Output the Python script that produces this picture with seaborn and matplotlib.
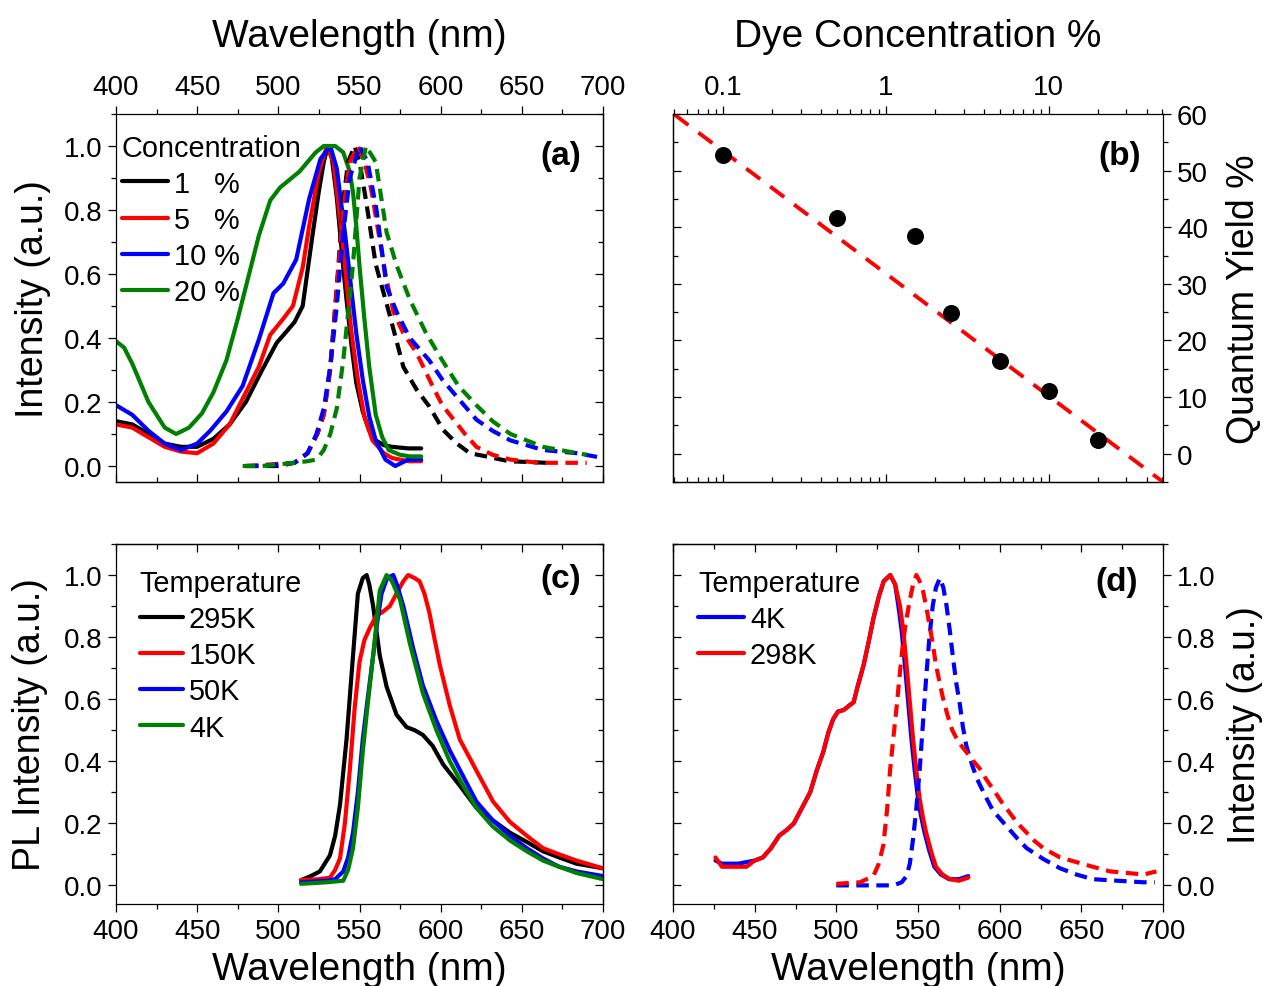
import numpy as np
import pandas as pd
import matplotlib
matplotlib.use("Agg")
import matplotlib.pyplot as plt
from matplotlib.ticker import MultipleLocator, FuncFormatter, LogLocator, NullFormatter
import seaborn as sns

sns.set_theme(style="ticks")
plt.rcParams['font.family'] = ['Liberation Sans', 'DejaVu Sans']
plt.rcParams['axes.linewidth'] = 0.9
plt.rcParams['axes.edgecolor'] = 'black'
plt.rcParams['text.color'] = 'black'
plt.rcParams['axes.labelcolor'] = 'black'
plt.rcParams['xtick.color'] = 'black'
plt.rcParams['ytick.color'] = 'black'
plt.rcParams['xtick.labelcolor'] = 'black'
plt.rcParams['ytick.labelcolor'] = 'black'

# ---------------- Panel (a): concentration series ----------------
conc_labels = ["1   %", "5   %", "10 %", "20 %"]
conc_colors = ["black", "red", "blue", "green"]

ex1_wl = [400, 410, 420, 430, 440, 450, 460, 470, 480, 490, 499, 505, 510, 515, 521, 525, 528, 530.5, 533, 536, 540, 542, 545, 548, 552, 556, 560, 565, 570, 580, 588]
ex1_i = [0.14, 0.13, 0.10, 0.07, 0.06, 0.06, 0.085, 0.13, 0.20, 0.30, 0.385, 0.42, 0.45, 0.50, 0.72, 0.86, 0.95, 1.0, 0.96, 0.84, 0.62, 0.52, 0.38, 0.26, 0.17, 0.11, 0.08, 0.065, 0.06, 0.055, 0.055]
ex5_wl = [400, 410, 420, 430, 440, 450, 460, 470, 478, 488, 495, 503, 509, 515, 519, 525, 530, 534, 539, 545, 549, 553, 558, 565, 570, 580, 588]
ex5_i = [0.13, 0.12, 0.09, 0.06, 0.045, 0.04, 0.07, 0.13, 0.21, 0.31, 0.41, 0.46, 0.50, 0.62, 0.75, 0.92, 1.0, 0.95, 0.73, 0.42, 0.27, 0.155, 0.08, 0.04, 0.025, 0.015, 0.015]
ex10_wl = [400, 410, 420, 430, 440, 450, 458, 468, 478, 488, 497, 503, 511, 519, 526, 532, 536, 541, 548, 552, 556, 560, 566, 572, 580, 588]
ex10_i = [0.19, 0.16, 0.11, 0.07, 0.05, 0.07, 0.11, 0.17, 0.25, 0.395, 0.54, 0.57, 0.645, 0.835, 0.96, 1.0, 0.93, 0.73, 0.415, 0.27, 0.155, 0.08, 0.02, 0.0, 0.02, 0.02]
ex20_wl = [400, 405, 410, 420, 430, 437, 445, 453, 460, 468, 475, 482, 488, 495, 501, 507, 513, 518, 523, 528, 535, 540, 544, 546, 548, 550, 553, 556, 560, 564, 568, 575, 581, 588]
ex20_i = [0.39, 0.37, 0.32, 0.20, 0.12, 0.10, 0.12, 0.165, 0.23, 0.33, 0.46, 0.60, 0.72, 0.83, 0.87, 0.895, 0.92, 0.95, 0.98, 1.0, 1.0, 0.98, 0.92, 0.855, 0.75, 0.625, 0.46, 0.31, 0.16, 0.09, 0.05, 0.035, 0.03, 0.03]

em1_wl = [480, 500, 510, 518, 524, 528, 532, 536, 540, 543, 547, 550, 554, 560, 568.7, 577, 585, 593, 601.5, 610, 618, 628, 642, 665]
em1_i = [0.0, 0.0, 0.01, 0.04, 0.10, 0.16, 0.31, 0.56, 0.83, 0.95, 1.0, 0.95, 0.83, 0.63, 0.47, 0.31, 0.24, 0.186, 0.113, 0.07, 0.04, 0.03, 0.015, 0.01]
em5_wl = [480, 510, 518, 524, 528, 532, 536, 540, 544, 549, 553, 557, 561, 566, 571, 577, 585, 595, 601, 608, 615, 622, 632, 643, 660, 690]
em5_i = [0.0, 0.01, 0.04, 0.10, 0.16, 0.30, 0.55, 0.80, 0.95, 1.0, 0.95, 0.87, 0.75, 0.60, 0.48, 0.415, 0.355, 0.25, 0.19, 0.145, 0.10, 0.06, 0.035, 0.02, 0.01, 0.01]
em10_wl = [480, 490, 500, 510, 518, 523.5, 528, 532, 536, 540, 544, 550, 555, 560.5, 566.7, 573, 581, 593, 601, 611, 622, 632, 643, 663, 684, 700]
em10_i = [0.0, 0.0, 0.005, 0.01, 0.04, 0.10, 0.18, 0.31, 0.50, 0.73, 0.90, 1.0, 0.95, 0.80, 0.56, 0.48, 0.40, 0.33, 0.27, 0.21, 0.145, 0.11, 0.08, 0.05, 0.04, 0.025]
em20_wl = [478, 490, 500, 510, 518, 523.5, 528, 532, 536, 540, 546, 550, 554, 560, 566.7, 573, 581, 591, 601, 611, 622, 632, 643, 663, 684, 690]
em20_i = [0.0, 0.0, 0.005, 0.01, 0.015, 0.02, 0.05, 0.10, 0.18, 0.33, 0.63, 0.90, 1.0, 0.95, 0.73, 0.625, 0.52, 0.415, 0.33, 0.25, 0.19, 0.14, 0.10, 0.06, 0.04, 0.035]

# ---------------- Panel (b): quantum yield ----------------
dye_conc = [0.1, 0.5, 1.5, 2.5, 5, 10, 20]
quantum_yield = [52.7, 41.6, 38.4, 24.8, 16.3, 11.1, 2.5]
fit_conc = [0.05, 50]
fit_qy = [59.9, -4.9]

# ---------------- Panel (c): temperature series ----------------
temp_labels = ["295K", "150K", "50K", "4K"]
temp_colors = ["black", "red", "blue", "green"]
t295_wl = [514, 520, 525.6, 531.8, 535, 538, 542, 546, 549, 552, 554.4, 556, 558.4, 562.5, 566.7, 572.8, 579, 584, 589, 595, 601.5, 612, 622, 632, 642.6, 653, 663, 673, 683.6, 700]
t295_i = [0.017, 0.03, 0.045, 0.097, 0.16, 0.26, 0.47, 0.74, 0.94, 0.99, 1.0, 0.97, 0.90, 0.74, 0.64, 0.55, 0.51, 0.50, 0.485, 0.45, 0.39, 0.32, 0.25, 0.21, 0.17, 0.14, 0.11, 0.09, 0.07, 0.055]
t150_wl = [514, 525, 531.8, 535, 538, 541, 544, 547, 550, 553, 556.4, 560.5, 564, 568.7, 572.8, 577, 580, 584, 587, 590, 593, 596, 599.5, 605.6, 611.8, 622, 632.3, 642.6, 653, 663, 673, 683.6, 700]
t150_i = [0.017, 0.02, 0.025, 0.05, 0.087, 0.2, 0.37, 0.57, 0.72, 0.79, 0.83, 0.87, 0.88, 0.90, 0.94, 0.98, 1.0, 0.99, 0.98, 0.94, 0.88, 0.80, 0.71, 0.58, 0.47, 0.37, 0.27, 0.205, 0.16, 0.12, 0.10, 0.08, 0.055]
t50_wl = [514, 530, 535, 540, 543, 546, 549, 552, 555, 558.4, 561, 563.6, 567, 570.8, 573, 577, 583, 589, 597.4, 605.6, 614, 622, 632, 642.6, 653, 663, 673, 683.6, 700]
t50_i = [0.01, 0.015, 0.02, 0.045, 0.09, 0.17, 0.30, 0.47, 0.60, 0.74, 0.85, 0.94, 0.99, 1.0, 0.97, 0.90, 0.765, 0.645, 0.53, 0.435, 0.35, 0.27, 0.21, 0.16, 0.12, 0.087, 0.06, 0.045, 0.03]
t4_wl = [514, 530, 540, 543, 546, 549, 552, 555, 558.4, 562.5, 566.7, 570, 575, 581, 589, 597.4, 605.6, 614, 622, 632, 642.6, 653, 663, 673, 683.6, 700]
t4_i = [0.005, 0.01, 0.015, 0.05, 0.12, 0.25, 0.43, 0.58, 0.74, 0.95, 1.0, 0.98, 0.92, 0.78, 0.62, 0.50, 0.40, 0.32, 0.25, 0.19, 0.145, 0.11, 0.08, 0.06, 0.04, 0.02]

# ---------------- Panel (d): 4K vs 298K ----------------
d_labels = ["4K", "298K"]
d_colors = ["blue", "red"]
ex4k_wl = [426, 430, 440, 450, 455, 460, 465, 470, 474, 480, 484, 488, 492, 495, 498, 501, 504.5, 508, 510.6, 513, 516.7, 520, 522.7, 526, 529, 533, 536, 538, 540, 542, 544, 546, 548, 550, 552, 554, 557, 560, 564, 569, 575, 580.8]
ex4k_i = [0.08, 0.07, 0.07, 0.08, 0.09, 0.12, 0.16, 0.18, 0.20, 0.26, 0.30, 0.37, 0.43, 0.49, 0.535, 0.56, 0.565, 0.58, 0.59, 0.64, 0.71, 0.79, 0.86, 0.93, 0.98, 1.0, 0.97, 0.90, 0.82, 0.71, 0.59, 0.47, 0.37, 0.28, 0.22, 0.17, 0.11, 0.06, 0.035, 0.02, 0.02, 0.03]
ex298_wl = [426, 430, 435, 440, 445, 450, 455, 460, 465, 470, 474, 480, 484, 488, 492, 495, 498, 501, 504.5, 508, 510.6, 513, 516.7, 520, 522.7, 526, 529, 533, 536, 539, 541, 543, 545, 547, 549, 551, 553, 555, 558, 561, 565, 569.6, 575, 580.8]
ex298_i = [0.09, 0.06, 0.06, 0.06, 0.06, 0.08, 0.09, 0.12, 0.16, 0.18, 0.20, 0.26, 0.30, 0.37, 0.43, 0.49, 0.535, 0.56, 0.565, 0.58, 0.59, 0.64, 0.71, 0.79, 0.86, 0.93, 0.98, 1.0, 0.97, 0.90, 0.82, 0.71, 0.59, 0.47, 0.37, 0.28, 0.22, 0.17, 0.11, 0.06, 0.035, 0.02, 0.015, 0.025]
em4k_wl = [500, 520, 535, 540, 543, 545, 547, 549, 551, 553, 555, 557, 559, 561, 563.4, 565.5, 567.5, 569.5, 571.5, 573.5, 575.7, 577.5, 579.6, 583, 586, 591, 596, 601, 606, 611, 616.5, 626.7, 637, 647, 657, 672, 688, 695]
em4k_i = [0.0, 0.0, 0.0, 0.01, 0.03, 0.07, 0.15, 0.25, 0.37, 0.52, 0.67, 0.80, 0.90, 0.96, 0.99, 0.96, 0.90, 0.82, 0.73, 0.65, 0.58, 0.51, 0.45, 0.39, 0.345, 0.29, 0.24, 0.21, 0.18, 0.15, 0.12, 0.085, 0.055, 0.035, 0.02, 0.015, 0.01, 0.01]
em298_wl = [500, 514.5, 522.7, 526, 528.8, 531, 532.9, 535, 537, 539, 541, 543, 545, 547, 549, 551, 553, 555, 557, 559, 561, 563, 565, 568, 571, 575, 579.6, 584, 588, 592, 596, 601, 606, 611, 616.5, 621, 626.7, 637, 647, 657, 667.6, 678, 688, 696]
em298_i = [0.005, 0.01, 0.03, 0.07, 0.13, 0.24, 0.37, 0.48, 0.58, 0.69, 0.79, 0.86, 0.92, 0.97, 1.0, 0.98, 0.95, 0.90, 0.84, 0.78, 0.71, 0.66, 0.61, 0.55, 0.50, 0.46, 0.43, 0.40, 0.375, 0.34, 0.31, 0.27, 0.235, 0.20, 0.17, 0.145, 0.12, 0.09, 0.075, 0.06, 0.045, 0.04, 0.035, 0.045]

TICK_FS = 20
LABEL_FS = 28
YLABEL_FS = 27
LEG_FS = 20.8
PANEL_FS = 24
LW = 3.0
DASH = (0, (3.0, 1.8))

fig = plt.figure(figsize=(12.66, 9.87), dpi=100)
axA = fig.add_axes([116/1266, 1-483/987, 487/1266, 368/987])
axB = fig.add_axes([673/1266, 1-483/987, 490/1266, 368/987])
axC = fig.add_axes([116/1266, 1-905/987, 487/1266, 360/987])
axD = fig.add_axes([673/1266, 1-905/987, 490/1266, 360/987])


def line(ax, x, y, color, dashed=False, label=None, lw=LW):
    df = pd.DataFrame({"x": x, "y": y})
    kw = dict(linestyle=DASH) if dashed else {}
    sns.lineplot(data=df, x="x", y="y", ax=ax, color=color, lw=lw,
                 estimator=None, sort=False, label=label, legend=False, **kw)


def style_axes(ax, xside, yside, xmaj, xmin, ymaj, ymin, logx=False):
    xo = 'bottom' if xside == 'top' else 'top'
    yo = 'left' if yside == 'right' else 'right'
    ax.xaxis.set_ticks_position(xside)
    ax.xaxis.set_label_position(xside)
    ax.yaxis.set_ticks_position(yside)
    ax.yaxis.set_label_position(yside)
    ax.tick_params(which='major', direction='out', length=6, width=0.9,
                   labelsize=TICK_FS, pad=4, color='black', labelcolor='black')
    ax.tick_params(which='minor', direction='out', length=3.5, width=0.9, color='black')
    sx = ax.secondary_xaxis(xo)
    sy = ax.secondary_yaxis(yo)
    for s in (sx, sy):
        s.tick_params(which='major', direction='in', length=6, width=0.9, color='black')
        s.tick_params(which='minor', direction='in', length=3.5, width=0.9, color='black')
    sx.tick_params(labelbottom=False, labeltop=False)
    sy.tick_params(labelleft=False, labelright=False)
    if logx:
        for a in (ax, sx):
            a.xaxis.set_major_locator(LogLocator(base=10))
            a.xaxis.set_minor_locator(LogLocator(base=10, subs=np.arange(2, 10)))
            a.xaxis.set_minor_formatter(NullFormatter())
        ax.xaxis.set_major_formatter(FuncFormatter(lambda v, p: f"{v:g}"))
    else:
        for a in (ax, sx):
            a.xaxis.set_major_locator(MultipleLocator(xmaj))
            a.xaxis.set_minor_locator(MultipleLocator(xmin))
    for a in (ax, sy):
        a.yaxis.set_major_locator(MultipleLocator(ymaj))
        a.yaxis.set_minor_locator(MultipleLocator(ymin))
    for sp in ax.spines.values():
        sp.set_color('black')
        sp.set_linewidth(0.9)


LEG_KW = dict(frameon=False, fontsize=LEG_FS, title_fontsize=LEG_FS,
              handletextpad=0.2, labelspacing=0.28, borderpad=0,
              borderaxespad=0, alignment='left', loc='upper left')

# ---- (a)
ex_sets = [(ex1_wl, ex1_i), (ex5_wl, ex5_i), (ex10_wl, ex10_i), (ex20_wl, ex20_i)]
em_sets = [(em1_wl, em1_i), (em5_wl, em5_i), (em10_wl, em10_i), (em20_wl, em20_i)]
for (x, y), c, lab in zip(ex_sets, conc_colors, conc_labels):
    line(axA, x, y, c, label=lab)
for (x, y), c in zip(em_sets, conc_colors):
    line(axA, x, y, c, dashed=True)
axA.set_xlim(400, 700)
axA.set_ylim(-0.05, 1.1)
style_axes(axA, 'top', 'left', 50, 25, 0.2, 0.1)
axA.yaxis.set_major_formatter(FuncFormatter(lambda v, p: f"{v:.1f}"))
axA.set_xlabel("Wavelength (nm)", fontsize=LABEL_FS, labelpad=20)
axA.set_ylabel("Intensity (a.u.)", fontsize=YLABEL_FS, labelpad=9)
axA.text(0.914, 0.886, "(a)", transform=axA.transAxes, fontsize=PANEL_FS,
         fontweight='bold', ha='center', va='center')
h, l = axA.get_legend_handles_labels()
axA.legend(h[:4], l[:4], title="Concentration", bbox_to_anchor=(0.012, 0.947),
           handlelength=1.6, **LEG_KW)

# ---- (b)
sns.lineplot(x=fit_conc, y=fit_qy, ax=axB, color='red', lw=2.8,
             linestyle=(0, (4.5, 3.2)), estimator=None, sort=False)
sns.scatterplot(x=dye_conc, y=quantum_yield, ax=axB, color='black', s=150,
                edgecolor='black', linewidth=0, zorder=3)
axB.set_xscale('log')
axB.set_xlim(0.049, 50.5)
axB.set_ylim(-5, 60)
style_axes(axB, 'top', 'right', None, None, 10, 5, logx=True)
axB.set_xlabel("Dye Concentration %", fontsize=LABEL_FS, labelpad=20)
axB.set_ylabel("Quantum Yield %", fontsize=YLABEL_FS, labelpad=13, rotation=90)
axB.text(0.912, 0.886, "(b)", transform=axB.transAxes, fontsize=PANEL_FS,
         fontweight='bold', ha='center', va='center')

# ---- (c)
t_sets = [(t295_wl, t295_i), (t150_wl, t150_i), (t50_wl, t50_i), (t4_wl, t4_i)]
for (x, y), c, lab in zip(t_sets, temp_colors, temp_labels):
    line(axC, x, y, c, label=lab)
axC.set_xlim(400, 700)
axC.set_ylim(-0.06, 1.1)
style_axes(axC, 'bottom', 'left', 50, 25, 0.2, 0.1)
axC.yaxis.set_major_formatter(FuncFormatter(lambda v, p: f"{v:.1f}"))
axC.set_xlabel("Wavelength (nm)", fontsize=LABEL_FS, labelpad=5)
axC.set_ylabel("PL Intensity (a.u.)", fontsize=YLABEL_FS, labelpad=11)
axC.text(0.914, 0.903, "(c)", transform=axC.transAxes, fontsize=PANEL_FS,
         fontweight='bold', ha='center', va='center')
h, l = axC.get_legend_handles_labels()
axC.legend(h, l, title="Temperature", bbox_to_anchor=(0.049, 0.93),
           handlelength=1.5, **LEG_KW)

# ---- (d)
line(axD, ex4k_wl, ex4k_i, 'blue', label=d_labels[0])
line(axD, ex298_wl, ex298_i, 'red', label=d_labels[1])
line(axD, em4k_wl, em4k_i, 'blue', dashed=True)
line(axD, em298_wl, em298_i, 'red', dashed=True)
axD.set_xlim(400, 700)
axD.set_ylim(-0.06, 1.1)
style_axes(axD, 'bottom', 'right', 50, 25, 0.2, 0.1)
axD.yaxis.set_major_formatter(FuncFormatter(lambda v, p: f"{v:.1f}"))
axD.set_xlabel("Wavelength (nm)", fontsize=LABEL_FS, labelpad=5)
axD.set_ylabel("Intensity (a.u.)", fontsize=YLABEL_FS, labelpad=8, rotation=90)
axD.text(0.906, 0.897, "(d)", transform=axD.transAxes, fontsize=PANEL_FS,
         fontweight='bold', ha='center', va='center')
h, l = axD.get_legend_handles_labels()
axD.legend(h[:2], l[:2], title="Temperature", bbox_to_anchor=(0.051, 0.93),
           handlelength=1.6, **LEG_KW)

fig.savefig("out.png", dpi=100)
